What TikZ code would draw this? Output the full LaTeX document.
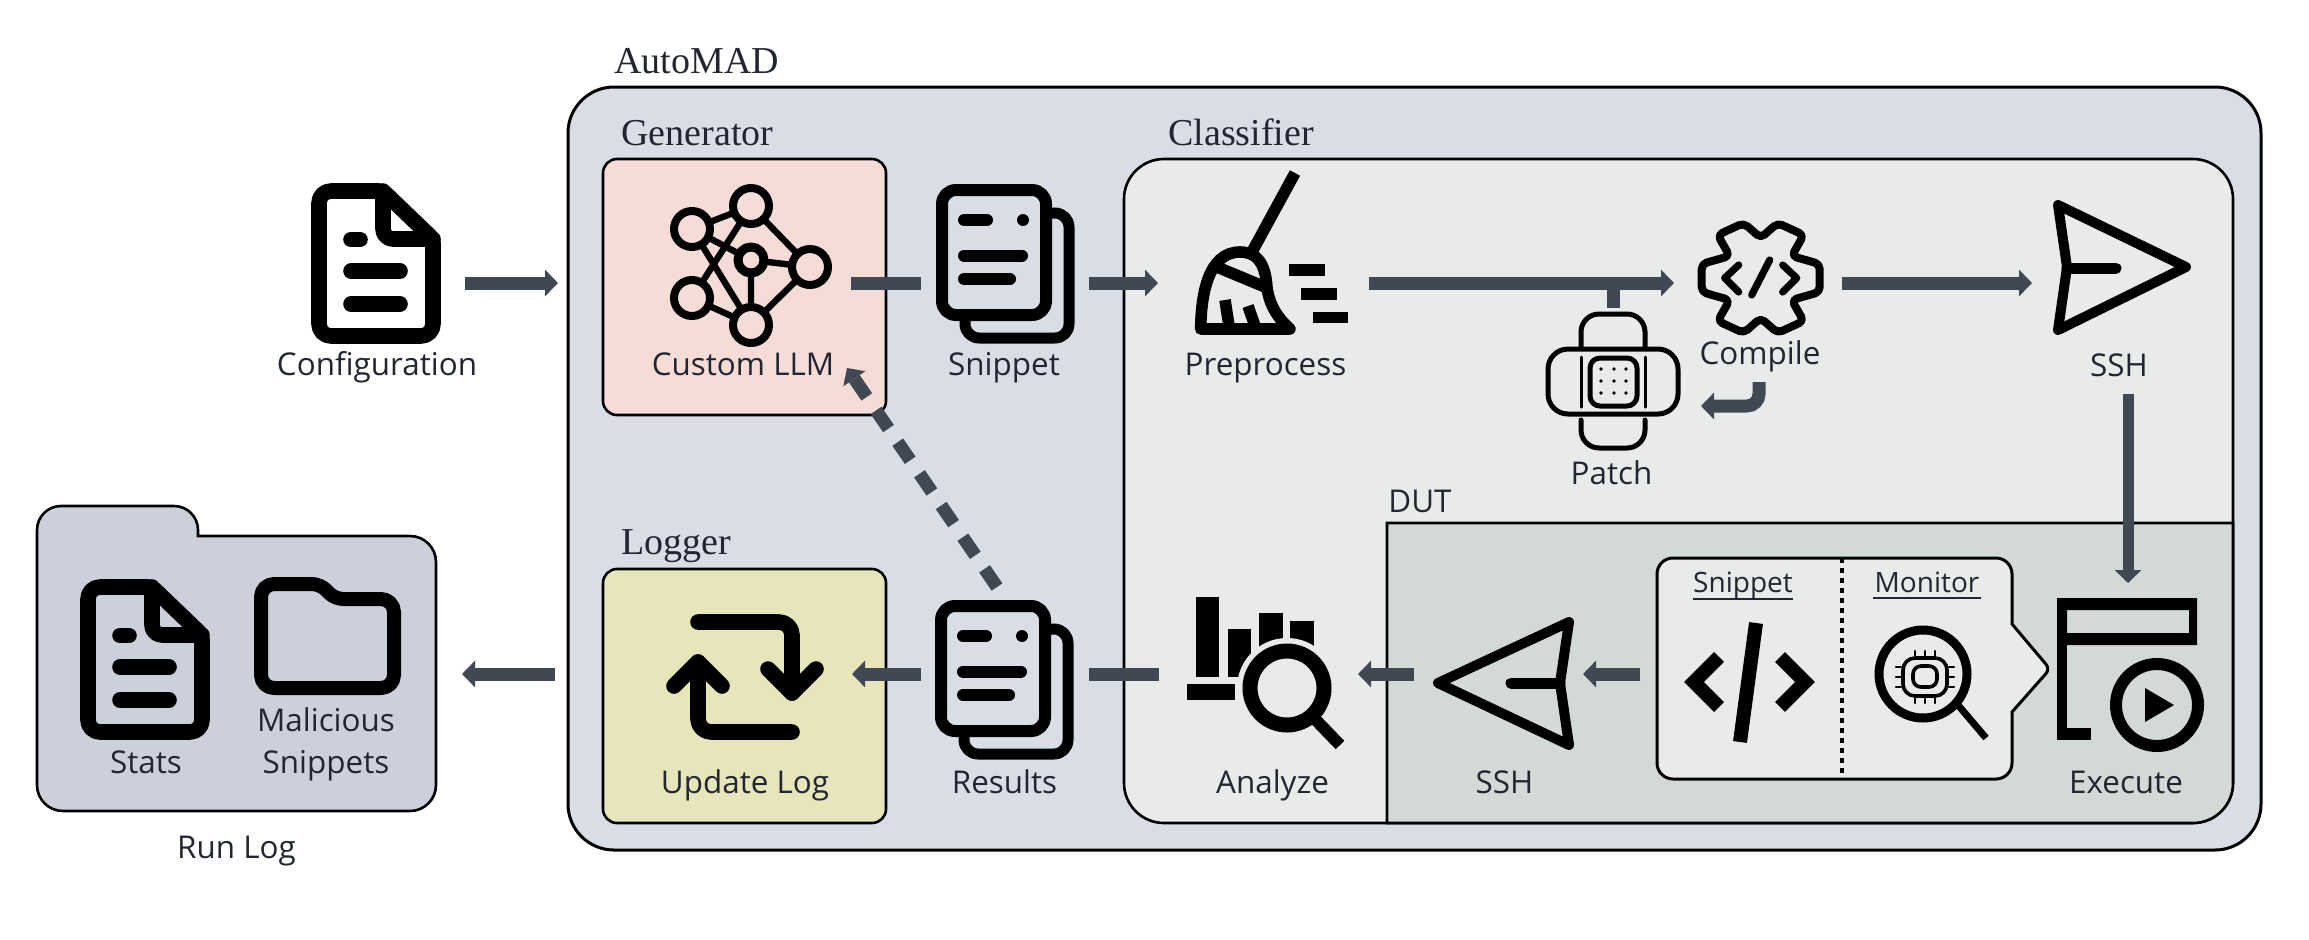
\documentclass[tikz,border=0pt]{standalone}
\usepackage{fontspec}
\setmainfont{Open Sans}
\newfontfamily\headfont{Liberation Serif}
\usetikzlibrary{arrows.meta}
\definecolor{cAuto}{HTML}{D9DDE5}
\definecolor{cClass}{HTML}{E9EBEA}
\definecolor{cDut}{HTML}{D3D9D5}
\definecolor{cGen}{HTML}{F6DCD7}
\definecolor{cLog}{HTML}{E6E6BA}
\definecolor{cFold}{HTML}{CBD0DA}
\definecolor{cArrow}{HTML}{404854}
\definecolor{cText}{HTML}{222632}
\tikzset{
  lab/.style={anchor=base,inner sep=0pt,text=cText,font=\fontsize{15.7}{18}\selectfont},
  smalllab/.style={anchor=base,inner sep=0pt,text=cText,font=\fontsize{14}{16}\selectfont},
  head/.style={anchor=base west,inner sep=0pt,text=cText,font=\headfont\fontsize{19}{22}\selectfont},
  dutlab/.style={anchor=base west,inner sep=0pt,text=cText,font=\fontsize{15.7}{18}\selectfont},
  panel/.style={draw=black,line width=1.3pt,outer sep=0pt,inner sep=0pt},
  flow/.style={draw=cArrow,line width=6.5pt,-{Triangle[length=6.5pt,width=13pt]}},
  thinflow/.style={draw=cArrow,line width=5.5pt,-{Triangle[length=6.5pt,width=13pt]}},
  plainflow/.style={draw=cArrow,line width=6.5pt},
  ic/.style={draw=black,line join=round,line cap=round},
}
\newcommand{\docicon}[2]{%
  \begin{scope}[shift={(#1,#2)}]
    \draw[ic,line width=7.8pt] (7,80) [rounded corners=6pt] -- (7,8) [rounded corners=2pt] -- (71,8) -- (121,56) [rounded corners=6pt] -- (121,153) -- (7,153) -- cycle;
    \draw[ic,line width=7.8pt,rounded corners=5pt] (71,8) -- (71,56) -- (121,56);
    \draw[ic,line width=7.8pt] (39,56.5) -- (48,56.5);
    \draw[ic,line width=7.8pt] (39,88) -- (88,88);
    \draw[ic,line width=7.8pt] (39,121) -- (88,121);
  \end{scope}}
\newcommand{\stackicon}[3]{%
  \begin{scope}[shift={(#1,#2)}]
    \draw[ic,line width=5.5pt,rounded corners=7pt] (116,29) -- (133,29) -- (133,154) -- (29,154) -- (29,137);
    \draw[ic,fill=#3,line width=6pt,rounded corners=7pt] (6,6) rectangle (110,131);
    \draw[ic,line width=6pt] (28,36) -- (51,36);
    \fill[black] (87,36) circle[radius=6];
    \draw[ic,line width=6pt] (28,71.5) -- (86,71.5);
    \draw[ic,line width=6pt] (28,95) -- (74,95);
  \end{scope}}
\begin{document}
\begin{tikzpicture}[x=0.5pt,y=-0.5pt]
\useasboundingbox (0,0) rectangle (2309,939);

% ---- panels
\node[panel,fill=cAuto,line width=1.5pt,rounded corners=23pt,minimum width=846.5pt,minimum height=381.5pt] (automad) at (1414.5,468.5) {};
\node[panel,fill=cGen,rounded corners=7pt,minimum width=141.5pt,minimum height=128pt] (gen) at (744.5,287) {};
\node[panel,fill=cLog,rounded corners=7pt,minimum width=141.5pt,minimum height=127pt] (logger) at (744.5,696) {};
\node[panel,fill=cClass,rounded corners=20pt,minimum width=554.5pt,minimum height=332pt] (classifier) at (1678.5,491) {};
\draw[panel,fill=cDut] (1387,823) -- (1387,523) -- (2233,523) [rounded corners=20pt] -- (2233,823) [sharp corners] -- cycle;
% run log folder
\draw[panel,fill=cFold] (37,650) [rounded corners=12pt] -- (37,506) -- (198,506) [sharp corners] -- (198,536) [rounded corners=13pt] -- (436,536) -- (436,811) -- (37,811) -- cycle;

% ---- texts
\node[head] (tauto) at (614,73) {AutoMAD};
\node[head] (tgen) at (621,145) {Generator};
\node[head] (tclass) at (1168,145) {Classifier};
\node[head] (tlog) at (621,554) {Logger};
\node[dutlab] (tdut) at (1388,512) {DUT};
\node[lab] (tconf) at (377,375) {Configuration};
\node[lab] (tllm) at (743,375) {Custom LLM};
\node[lab] (tsnip) at (1004,375) {Snippet};
\node[lab] (tpre) at (1265.5,375) {Preprocess};
\node[lab] (tcomp) at (1760,364) {Compile};
\node[lab] (tssh) at (2119,376) {SSH};
\node[lab] (tpatch) at (1611.5,484) {Patch};
\node[lab] (tana) at (1272.5,793) {Analyze};
\node[lab] (tsshb) at (1504.5,793) {SSH};
\node[lab] (texec) at (2126,793) {Execute};
\node[lab] (tupd) at (745,793) {Update Log};
\node[lab] (tres) at (1004.5,793) {Results};
\node[lab] (tstats) at (146,773) {Stats};
\node[lab] (tmal) at (326,731) {Malicious};
\node[lab] (tmsn) at (326,773) {Snippets};
\node[lab] (trun) at (236.5,858) {Run Log};

% ---- icons
\docicon{312}{183}
\docicon{81}{579}
\stackicon{936}{184}{cAuto}
\stackicon{935}{600}{cAuto}

% network
\begin{scope}
  \draw[ic,line width=3.2pt] (692,229) -- (751,206) -- (810,267) -- (751,325) -- (692,298) -- (751,206);
  \draw[ic,line width=3.2pt] (692,229) -- (751,325) -- (751,260) -- (810,267);
  \draw[ic,line width=3.2pt] (692,229) -- (751,260);
  \foreach \p in {(751,206),(692,229),(692,298),(751,325),(810,267)}
    \draw[ic,fill=cGen,line width=4pt] \p circle[radius=18];
  \draw[ic,fill=cGen,line width=4.5pt] (751,260) circle[radius=13];
\end{scope}

% broom
\draw[ic,line width=5.8pt,line cap=butt] (1295,173) -- (1253,250);
\draw[ic,line width=5.8pt] (1200.7,329) .. controls (1201,295) and (1208,252) .. (1240,252) .. controls (1262,252) and (1266,272) .. (1267,288) .. controls (1270,308) and (1280,320) .. (1290,329) -- cycle;
\draw[ic,line width=5.8pt,line cap=butt] (1217,267) -- (1265,287);
\draw[ic,line width=5.8pt,line cap=butt] (1225,300) -- (1229,326);
\draw[ic,line width=5.8pt,line cap=butt] (1248,306) -- (1255,326);
\fill[black] (1289,264) rectangle (1325,276);
\fill[black] (1301,288) rectangle (1337,300);
\fill[black] (1313,312) rectangle (1348,323);

% gear
\begin{scope}[shift={(1760.7,278)}]
  \draw[ic,line width=4pt,rounded corners=2.5pt]
    (0,-40) -- (17,-55) -- (43,-43) -- (31,-22) -- (59,-14) -- (59,14) -- (31,22) -- (43,43) -- (17,55)
    -- (0,40) -- (-17,55) -- (-43,43) -- (-31,22) -- (-59,14) -- (-59,-14) -- (-31,-22) -- (-43,-43) -- (-17,-55) -- cycle;
  \draw[ic,line width=3.6pt] (-22,-13) -- (-36,0) -- (-22,14);
  \draw[ic,line width=3.6pt] (9,-18) -- (-9,17);
  \draw[ic,line width=3.6pt] (22,-13) -- (36,0) -- (22,14);
\end{scope}

% send arrows
\draw[ic,line width=5pt] (2058,205) -- (2186,267) -- (2058,330) -- (2067,267) -- cycle;
\draw[ic,line width=5.5pt] (2067,268) -- (2116,268);
\draw[ic,line width=5pt] (1569,622) -- (1438,683) -- (1569,745) -- (1560,683) -- cycle;
\draw[ic,line width=5.5pt] (1560,683) -- (1511,683);

% patch
\draw[ic,line width=2.5pt,rounded corners=9pt] (1581,347) -- (1581,314) -- (1645,314) -- (1645,347);
\draw[ic,line width=2.5pt,rounded corners=9pt] (1581,420) -- (1581,448) -- (1645,448) -- (1645,420);
\draw[ic,line width=2.5pt,rounded corners=10pt] (1548,349) rectangle (1678,414);
\draw[ic,line width=1.5pt] (1581,357) -- (1581,407);
\draw[ic,line width=1.5pt] (1645,357) -- (1645,407);
\draw[ic,line width=2.5pt,rounded corners=5pt] (1590,358) rectangle (1637,406);
\foreach \a in {1601,1614,1626}\foreach \b in {369,381,393}
  \fill[black] (\a,\b) circle[radius=1.9];

% analyze
\fill[black] (1196,597) rectangle (1219,677);
\fill[black] (1228,629) rectangle (1251,677);
\fill[black] (1259,613) rectangle (1283,655);
\fill[black] (1290,621) rectangle (1314,655);
\fill[black] (1187,684) rectangle (1235,700);
\fill[cClass] (1287,688) circle[radius=50];
\draw[ic,line width=7.5pt] (1287,688) circle[radius=37];
\draw[ic,line width=6pt,line cap=butt] (1312,716) -- (1340,745);

% update log
\draw[ic,line width=7.8pt,rounded corners=6.5pt] (698,622) -- (792,622) -- (792,693);
\draw[ic,line width=7.8pt] (768,669) -- (792,693) -- (816,669);
\draw[ic,line width=7.8pt,rounded corners=6.5pt] (792,732) -- (698,732) -- (698,662);
\draw[ic,line width=7.8pt] (674,686) -- (698,662) -- (722,686);

% folder
\draw[ic,line width=7pt] (261,640) [rounded corners=6.5pt] -- (261,584) [rounded corners=4pt] -- (320,584) -- (335,599) [rounded corners=6.5pt] -- (394,599) -- (394,688) -- (261,688) -- cycle;

% execute
\fill[black,even odd rule] (2057,598) rectangle (2197,645) (2067,610) rectangle (2189,633);
\fill[black] (2057,645) rectangle (2067,740);
\fill[black] (2057,728) rectangle (2091,740);
\draw[ic,line width=6pt] (2157,705) circle[radius=41];
\fill[black] (2145,688) -- (2174,705) -- (2145,722) -- cycle;

% call-out
\draw[panel,fill=cClass,line width=1.5pt,rounded corners=8pt] (1842,558) -- (2012,558) [sharp corners] -- (2012,624) [rounded corners=3pt] -- (2050,669) [sharp corners] -- (2012,712) [rounded corners=8pt] -- (2012,779) -- (1657,779) -- (1657,558) -- cycle;
\draw[black,line width=1.6pt,dash pattern=on 2.6pt off 2.4pt] (1842,558) -- (1842,779);
\node[smalllab] (tsnippet) at (1743,592) {Snippet};
\node[smalllab] (tmonitor) at (1927,592) {Monitor};
\draw[cText,line width=1.2pt] (1693,599) -- (1793,599);
\draw[cText,line width=1.2pt] (1873,598) -- (1981,598);
% code glyph
\draw[black,line width=7pt,line join=miter] (1719,657) -- (1694,682) -- (1719,707);
\draw[black,line width=7pt,line join=miter] (1780,657) -- (1805,682) -- (1780,707);
\draw[black,line width=7pt] (1756,623) -- (1740,742);
% monitor glyph
\draw[ic,line width=4.5pt] (1923,674) circle[radius=44];
\draw[black,line width=3.5pt] (1958,705) -- (1986,738);
\draw[ic,line width=1.8pt,rounded corners=6pt] (1903,658) rectangle (1947,696);
\draw[ic,line width=1.8pt,rounded corners=4pt] (1913,666) rectangle (1937,687);
\foreach \a in {1915,1925,1935}{
  \draw[ic,line width=1.2pt] (\a,651) -- (\a,656);
  \draw[ic,line width=1.2pt] (\a,698) -- (\a,703);}
\foreach \b in {667,677,687}{
  \draw[ic,line width=1.2pt] (1896,\b) -- (1901,\b);
  \draw[ic,line width=1.2pt] (1949,\b) -- (1954,\b);}

% ---- connector ports
\coordinate (cfgOut) at (465,283);
\coordinate (genIn) at (558,283);
\coordinate (llmOut) at (851,283);
\coordinate (snipIn) at (921,283);
\coordinate (snipOut) at (1089,283);
\coordinate (preIn) at (1158,283);
\coordinate (preOut) at (1369,283);
\coordinate (compIn) at (1674,283);
\coordinate (patchTop) at (1613,308);
\coordinate (patchJoin) at (1613,283);
\coordinate (compOut) at (1842,283);
\coordinate (sshIn) at (2032,283);
\coordinate (compDown) at (1759,382);
\coordinate (patchIn) at (1701,406);
\coordinate (sshOut) at (2128,394);
\coordinate (execIn) at (2128,583);
\coordinate (anaOut) at (1159,674);
\coordinate (resIn) at (1089,674);
\coordinate (sshbOut) at (1414,674);
\coordinate (anaIn) at (1358,674);
\coordinate (boxOut) at (1640,674);
\coordinate (sshbIn) at (1583,674);
\coordinate (resOut) at (921,674);
\coordinate (logIn) at (852,674);
\coordinate (logOut) at (555,674);
\coordinate (runIn) at (462,674);
\coordinate (resFb) at (997,587);
\coordinate (llmFb) at (847,368);

% ---- connectors
\draw[flow] (cfgOut) -- (genIn);
\draw[plainflow] (llmOut) -- (snipIn);
\draw[flow] (snipOut) -- (preIn);
\draw[flow] (preOut) -- (compIn);
\draw[plainflow] (patchTop) -- (patchJoin);
\draw[flow] (compOut) -- (sshIn);
\draw[flow,rounded corners=6pt] (compDown) |- (patchIn);
\draw[thinflow] (sshOut) -- (execIn);
\draw[plainflow] (anaOut) -- (resIn);
\draw[flow] (sshbOut) -- (anaIn);
\draw[flow] (boxOut) -- (sshbIn);
\draw[flow] (resOut) -- (logIn);
\draw[flow] (logOut) -- (runIn);
\draw[flow,dash pattern=on 11pt off 8.2pt] (resFb) -- (llmFb);
\end{tikzpicture}
\end{document}
